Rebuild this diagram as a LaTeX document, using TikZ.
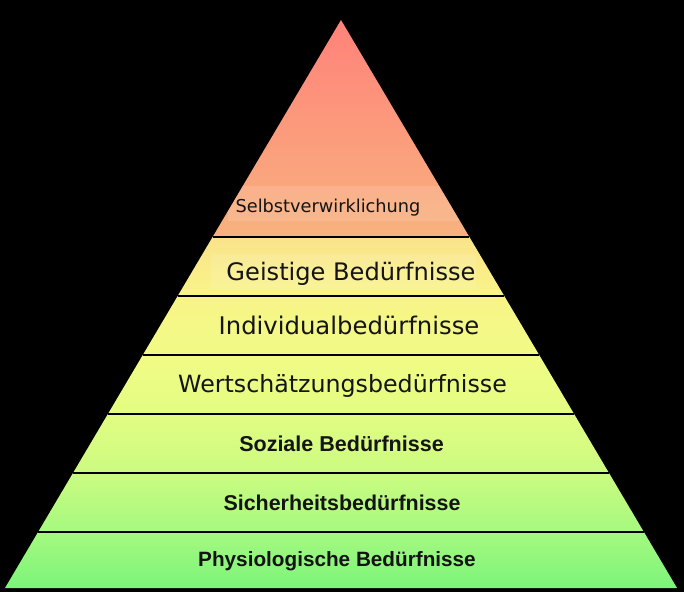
\documentclass[tikz,border=0pt]{standalone}
\usepackage{fontspec}
\usepackage{tikz}
\usetikzlibrary{math}
\newfontfamily\dejavu{DejaVu Sans}
\newfontfamily\liberation{Liberation Sans}
\definecolor{vrh}{RGB}{255,130,122}
\definecolor{vrhdno}{RGB}{248,178,126}
\definecolor{slova}{RGB}{20,20,20}
\pgfdeclareverticalshading{piramida}{100bp}{%
    rgb(0bp)=(0.486,0.957,0.478);
    rgb(25bp)=(0.486,0.957,0.478);
    rgb(33bp)=(0.650,0.975,0.500);
    rgb(41bp)=(0.790,0.985,0.505);
    rgb(50bp)=(0.890,0.990,0.510);
    rgb(58bp)=(0.945,0.985,0.520);
    rgb(67bp)=(0.975,0.955,0.535);
    rgb(75bp)=(0.980,0.890,0.545);
    rgb(100bp)=(0.980,0.890,0.545)}
\tikzset{natpis1/.style={font=\dejavu\fontsize{#1}{#1}\selectfont, text=slova,
    inner sep=0pt, anchor=base}}
\tikzset{natpis2/.style={font=\liberation\bfseries\fontsize{#1}{#1}\selectfont,
    text=slova, inner sep=0pt, anchor=base}}

\begin{document}
\begin{tikzpicture}[x=1bp, y=-1bp]
    %pozadina
    \fill[black] (0, 0) rectangle (684, 592);
    \useasboundingbox (0, 0) rectangle (684, 592);

    %vrh
    \shade[top color=vrh, bottom color=vrhdno] (341, 20) -- (469.4, 237)
        -- (212.6, 237) -- cycle;

    %ostatak piramide
    \shade[shading=piramida]
        (212.6, 237) -- (469.4, 237) -- (677, 588) -- (5, 588) -- cycle;

    %svjetlije podloge
    \begin{scope}
        \clip (341, 20) -- (677, 588) -- (5, 588) -- cycle;
        \fill[white, opacity=0.12] (228, 186) rectangle (462, 221);
        \fill[white, opacity=0.12] (211, 254) rectangle (476, 289);
    \end{scope}

    %linije
    \foreach \y in {237, 296, 355, 414, 473, 532} {
        \tikzmath{\pola = 0.5915*(\y - 20);}
        \draw[line width=2.6bp, black] (341 - \pola, \y) -- (341 + \pola, \y);
    }

    %natpisi
    \node[natpis1=17.8] (selbst) at (328, 212) {Selbstverwirklichung};
    \node[natpis1=24.2] (geistig) at (351, 280) {Geistige Bedürfnisse};
    \node[natpis1=24.4] (individ) at (349, 334) {Individualbedürfnisse};
    \node[natpis1=23.8] (wert) at (342.5, 392) {Wertschätzungsbedürfnisse};
    \node[natpis2=21.6] (sozial) at (341.5, 451) {Soziale Bedürfnisse};
    \node[natpis2=21.5] (sicher) at (342, 510) {Sicherheitsbedürfnisse};
    \node[natpis2=20.8] (physio) at (337, 566) {Physiologische Bedürfnisse};
\end{tikzpicture}
\end{document}
